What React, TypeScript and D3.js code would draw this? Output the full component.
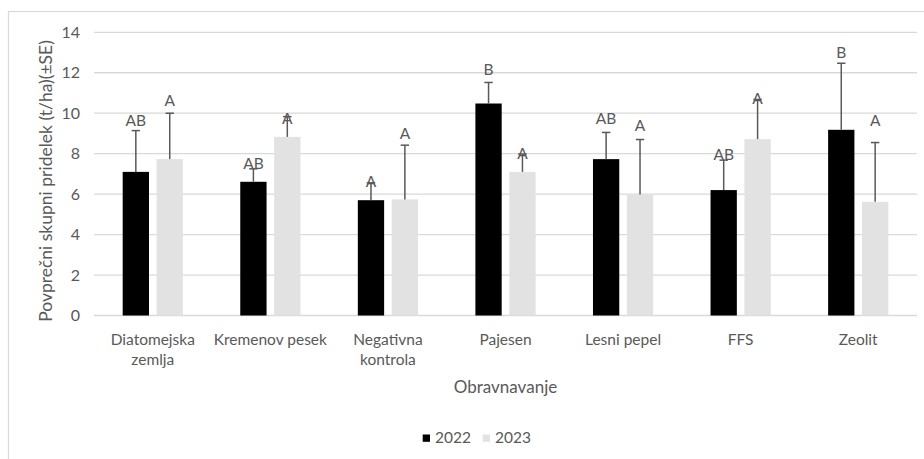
import React from "react";
import * as d3 from "d3";

const categories: string[][] = [
  ["Diatomejska", "zemlja"],
  ["Kremenov pesek"],
  ["Negativna", "kontrola"],
  ["Pajesen"],
  ["Lesni pepel"],
  ["FFS"],
  ["Zeolit"],
];
const years = ["2022", "2023"];
const values2022 = [7.1, 6.61, 5.7, 10.48, 7.73, 6.2, 9.18];
const values2023 = [7.73, 8.83, 5.74, 7.1, 5.98, 8.72, 5.62];
const se2022 = [2.04, 0.64, 0.86, 1.04, 1.32, 1.48, 3.29];
const se2023 = [2.27, 1.0, 2.68, 0.88, 2.72, 1.96, 2.93];
const letters2022 = ["AB", "AB", "A", "B", "AB", "AB", "B"];
const letters2023 = ["A", "A", "A", "A", "A", "A", "A"];
const letterPos2022 = [9.62, 7.53, 6.61, 12.16, 9.72, 7.96, 13.03];
const letterPos2023 = [10.63, 9.75, 9.01, 8.01, 9.42, 10.71, 9.62];
const yTicks = [0, 2, 4, 6, 8, 10, 12, 14];

const colors = ["#000000", "#e2e2e2"];
const FONT = "Lato, 'Open Sans', sans-serif";
const TXT = "#595959";

export default function App() {
  const W = 924, H = 459;
  const x = d3.scaleBand<number>().domain(d3.range(categories.length)).range([94, 917]).padding(0);
  const y = d3.scaleLinear().domain([0, 14]).range([315.5, 32.3]);
  const bw = 26.3;
  const hg = 3.8;
  const series = [
    { vals: values2022, se: se2022, letters: letters2022, lp: letterPos2022, off: -hg - bw },
    { vals: values2023, se: se2023, letters: letters2023, lp: letterPos2023, off: hg },
  ];
  return (
    <svg width={W} height={H} style={{ position: "absolute", left: 0, top: 0, background: "#fff" }}>
      <rect x={8.5} y={11.5} width={W + 10} height={H + 10} fill="#fff" stroke="#d9d9d9" strokeWidth={1.2} />
      {yTicks.map((t) => (
        <g key={t}>
          <line x1={94} x2={917} y1={y(t)} y2={y(t)} stroke="#d9d9d9" strokeWidth={1.3} />
          <text x={80} y={y(t)} dy="0.35em" textAnchor="end" fontFamily={FONT} fontSize={16} fill={TXT}>
            {t}
          </text>
        </g>
      ))}
      {series.map((s, si) =>
        s.vals.map((v, i) => {
          const cx = (x(i) as number) + x.bandwidth() / 2;
          const bx = cx + s.off;
          const mid = bx + bw / 2;
          return (
            <g key={si + "-" + i}>
              <rect x={bx} y={y(v)} width={bw} height={y(0) - y(v)} fill={colors[si]} />
              <line x1={mid} x2={mid} y1={y(v)} y2={y(v + s.se[i])} stroke="#595959" strokeWidth={1.5} />
              <line x1={mid - 4.2} x2={mid + 4.2} y1={y(v + s.se[i])} y2={y(v + s.se[i])} stroke="#595959" strokeWidth={1.5} />
              <text x={mid} y={y(s.lp[i])} dy="0.36em" textAnchor="middle" fontFamily={FONT} fontSize={15.5} fill={TXT}>
                {s.letters[i]}
              </text>
            </g>
          );
        })
      )}
      {categories.map((lines, i) => {
        const cx = (x(i) as number) + x.bandwidth() / 2;
        return (
          <text key={i} textAnchor="middle" fontFamily={FONT} fontSize={15.5} fill={TXT}>
            {lines.map((l, j) => (
              <tspan key={j} x={cx} y={344.5 + j * 20.5}>
                {l}
              </tspan>
            ))}
          </text>
        );
      })}
      <text x={505.5} y={392.5} textAnchor="middle" fontFamily={FONT} fontSize={17} fill={TXT}>
        Obravnavanje
      </text>
      <text
        transform={`translate(51.5,181) rotate(-90)`}
        textAnchor="middle"
        fontFamily={FONT}
        fontSize={17.5}
        fill={TXT}
      >
        Povprečni skupni pridelek (t/ha)(±SE)
      </text>
      {years.map((yr, i) => {
        const lx = 422.7 + i * 60;
        return (
          <g key={yr}>
            <rect x={lx} y={434.5} width={7.3} height={7.3} fill={colors[i]} />
            <text x={lx + 12.3} y={442.7} fontFamily={FONT} fontSize={15.5} fill={TXT}>
              {yr}
            </text>
          </g>
        );
      })}
    </svg>
  );
}
